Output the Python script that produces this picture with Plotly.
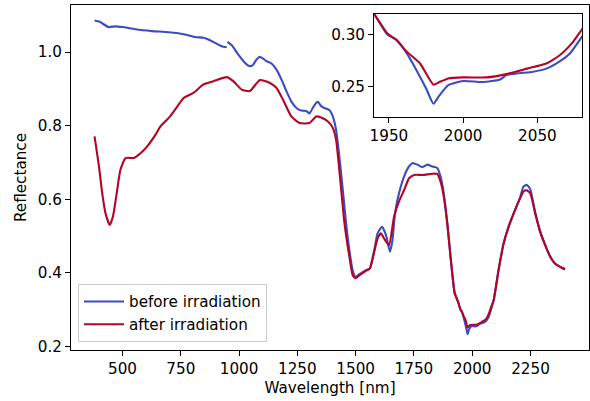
import plotly.graph_objects as go

# ---- data ----
wl_before = [380, 400, 440, 470, 500, 555, 627, 698, 769, 812, 847, 861, 897, 925, 947,
             948,
             950, 968, 996, 1025, 1043, 1058, 1075, 1089, 1103, 1118, 1139, 1160, 1182, 1203,
             1224, 1246, 1267, 1288, 1302, 1316, 1331, 1338, 1352, 1366, 1388, 1402, 1416,
             1430, 1445, 1459, 1473, 1487, 1499, 1516, 1544, 1561, 1580, 1594, 1613, 1630,
             1647, 1658, 1669, 1686, 1708, 1729, 1743, 1765, 1786, 1807, 1829, 1850, 1864,
             1878, 1893, 1907, 1925, 1940, 1949, 1955, 1962, 1968, 1975, 1980, 1984, 1990,
             2000, 2013, 2025, 2029, 2047, 2056, 2065, 2072, 2080, 2092, 2113, 2135, 2156,
             2184, 2206, 2220, 2234, 2249, 2270, 2291, 2313, 2334, 2355, 2377, 2398]
refl_before = [1.086, 1.083, 1.068, 1.070, 1.068, 1.062, 1.057, 1.054, 1.048, 1.041, 1.039,
               1.036, 1.025, 1.016, 1.013,
               None,
               1.028, 1.019, 0.994, 0.971, 0.962, 0.964, 0.980, 0.987, 0.982, 0.975, 0.969,
               0.953, 0.925, 0.894, 0.866, 0.848, 0.841, 0.840, 0.833, 0.848, 0.862, 0.865,
               0.853, 0.848, 0.842, 0.825, 0.789, 0.716, 0.625, 0.535, 0.462, 0.407, 0.389,
               0.396, 0.407, 0.412, 0.462, 0.507, 0.525, 0.503, 0.457, 0.489, 0.562, 0.616,
               0.662, 0.689, 0.698, 0.694, 0.687, 0.694, 0.689, 0.685, 0.662, 0.616, 0.535,
               0.444, 0.344, 0.320, 0.300, 0.295, 0.282, 0.267, 0.248, 0.233, 0.241, 0.251,
               0.255, 0.254, 0.2565, 0.2607, 0.264, 0.267, 0.274, 0.282, 0.298, 0.325, 0.407,
               0.480, 0.525, 0.571, 0.606, 0.634, 0.639, 0.627, 0.565, 0.514, 0.476, 0.445,
               0.425, 0.416, 0.410]

wl_after = [380, 399, 413, 427, 445, 459, 473, 491, 513, 548, 577, 605, 641, 662, 684, 705,
            726, 762, 804, 847, 890, 947, 975, 1011, 1046, 1089, 1132, 1160, 1188, 1224, 1260,
            1302, 1331, 1352, 1380, 1402, 1416, 1430, 1452, 1473, 1487, 1499, 1516, 1544,
            1561, 1580, 1594, 1608, 1625, 1643, 1665, 1686, 1708, 1729, 1751, 1786, 1829,
            1850, 1864, 1878, 1893, 1907, 1925, 1940, 1949, 1955, 1962, 1971, 1980, 1984,
            1990, 2000, 2016, 2029, 2043, 2056, 2065, 2074, 2080, 2092, 2113, 2135, 2156,
            2184, 2206, 2220, 2234, 2249, 2270, 2291, 2313, 2334, 2355, 2377, 2398]
refl_after = [0.771, 0.689, 0.616, 0.562, 0.530, 0.553, 0.607, 0.680, 0.712, 0.712, 0.725,
              0.743, 0.775, 0.797, 0.812, 0.826, 0.844, 0.875, 0.889, 0.912, 0.921, 0.932,
              0.921, 0.898, 0.894, 0.924, 0.916, 0.903, 0.871, 0.825, 0.807, 0.807, 0.825,
              0.822, 0.812, 0.794, 0.762, 0.680, 0.535, 0.444, 0.394, 0.385, 0.393, 0.405,
              0.412, 0.458, 0.493, 0.507, 0.490, 0.475, 0.553, 0.594, 0.625, 0.657, 0.666,
              0.666, 0.669, 0.669, 0.648, 0.607, 0.535, 0.444, 0.344, 0.320, 0.301, 0.295,
              0.2835, 0.272, 0.2515, 0.254, 0.2575, 0.2585, 0.2585, 0.2617, 0.267, 0.272,
              0.280, 0.293, 0.305, 0.325, 0.407, 0.480, 0.525, 0.571, 0.603, 0.621, 0.624,
              0.616, 0.562, 0.512, 0.475, 0.444, 0.425, 0.416, 0.409]

labels = ["before irradiation", "after irradiation"]
main_xticks = [500, 750, 1000, 1250, 1500, 1750, 2000, 2250]
main_yticks = [0.2, 0.4, 0.6, 0.8, 1.0]
inset_xticks = [1950, 2000, 2050]
inset_yticks = [0.25, 0.30]

BLUE = "#3b4cc0"
RED = "#b40426"
FONT = "DejaVu Sans"
FS = 15.2

fig = go.Figure()
for xa, ya, show in [("x", "y", True), ("x2", "y2", False)]:
    fig.add_trace(go.Scatter(x=wl_before, y=refl_before, mode="lines", name=labels[0],
                             line=dict(color=BLUE, width=2.1, shape="spline", smoothing=0.5),
                             xaxis=xa, yaxis=ya, showlegend=show, connectgaps=False))
    fig.add_trace(go.Scatter(x=wl_after, y=refl_after, mode="lines", name=labels[1],
                             line=dict(color=RED, width=2.1, shape="spline", smoothing=0.5),
                             xaxis=xa, yaxis=ya, showlegend=show))

axis_common = dict(showgrid=False, zeroline=False, showline=True, linecolor="black",
                   linewidth=1.1, mirror=True, ticks="outside", ticklen=4.9, tickwidth=1.1,
                   tickcolor="black", tickfont=dict(family=FONT, size=FS, color="black"))

fig.update_layout(
    width=590, height=401,
    margin=dict(l=71, r=1, t=5, b=51),
    paper_bgcolor="white", plot_bgcolor="white",
    font=dict(family=FONT, size=FS, color="black"),
    xaxis=dict(domain=[0, 1], range=[279, 2501], tickvals=main_xticks,
               title=dict(text="Wavelength [nm]", font=dict(family=FONT, size=FS), standoff=5),
               **axis_common),
    yaxis=dict(domain=[0, 1], range=[0.19, 1.128], tickvals=main_yticks, tickformat=".1f",
               title=dict(text="Reflectance", font=dict(family=FONT, size=FS), standoff=7),
               **axis_common),
    xaxis2=dict(domain=[0.585, 0.9865], range=[1940, 2080], tickvals=inset_xticks,
                anchor="y2", **axis_common),
    yaxis2=dict(domain=[0.675, 0.974], range=[0.22, 0.32], tickvals=inset_yticks,
                tickformat=".2f", anchor="x2", **axis_common),
    legend=dict(x=0.0135, y=0.023, xanchor="left", yanchor="bottom", itemwidth=40,
                bgcolor="rgba(255,255,255,0.8)", bordercolor="#cccccc", borderwidth=1,
                font=dict(family=FONT, size=FS, color="black")),
    showlegend=True,
)

fig.write_html("out.html")
